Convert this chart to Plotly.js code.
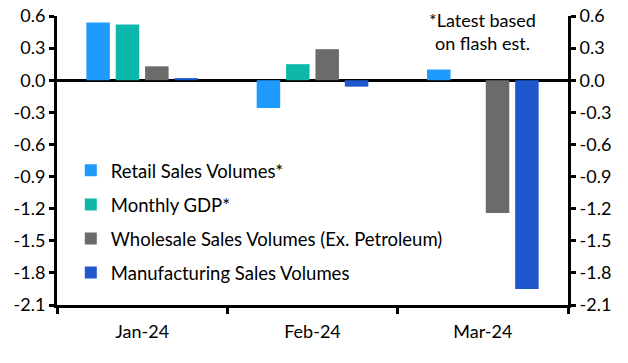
<!DOCTYPE html>
<html><head><meta charset="utf-8">
<script src="https://cdn.plot.ly/plotly-3.0.1.min.js"></script>
<style>body{margin:0}#c{width:628px;height:363px}</style>
</head><body><div id="c"></div>
<script>
const categories = ["Jan-24", "Feb-24", "Mar-24"];
const retail = [0.54, -0.26, 0.10];
const gdp = [0.52, 0.15, null];
const wholesale = [0.13, 0.29, -1.24];
const manufacturing = [0.02, -0.06, -1.95];
const seriesNames = ["Retail Sales Volumes*", "Monthly GDP*", "Wholesale Sales Volumes (Ex. Petroleum)", "Manufacturing Sales Volumes"];
const colors = ["#1F9BFF", "#0DB8AA", "#6B6B6B", "#1F57CC"];
const yTickVals = [0.6, 0.3, 0.0, -0.3, -0.6, -0.9, -1.2, -1.5, -1.8, -2.1];
const yTickText = ["0.6", "0.3", "0.0", "-0.3", "-0.6", "-0.9", "-1.2", "-1.5", "-1.8", "-2.1"];
const note = "*Latest based<br>on flash est.";

const font = "Lato, 'Noto Sans', sans-serif";
const data = [retail, gdp, wholesale, manufacturing].map((v, i) => ({
  type: "bar", x: categories, y: v, name: seriesNames[i],
  marker: {color: colors[i]}, legendgroup: "g" + i
}));
data.push({type: "scatter", x: categories, y: [null, null, null], yaxis: "y2", showlegend: false, hoverinfo: "skip"});

const yBase = {
  range: [-2.1, 0.6], tickvals: yTickVals, ticktext: yTickText,
  ticks: "outside", ticklen: 5, tickwidth: 3, tickcolor: "#000",
  showline: true, linecolor: "#000", linewidth: 3, showgrid: false,
  zeroline: false, tickfont: {size: 18, color: "#000", family: font}
};
const layout = {
  width: 628, height: 363,
  margin: {l: 57, r: 60, t: 16, b: 58},
  paper_bgcolor: "#fff", plot_bgcolor: "#fff",
  font: {family: font, color: "#000"},
  barmode: "group", bargap: 0.31, bargroupgap: 0.2,
  showlegend: true,
  legend: {x: 0.027, y: 0.53, xanchor: "left", yanchor: "top", traceorder: "grouped",
    itemwidth: 30, tracegroupgap: 7, font: {size: 18.5, family: font, color: "#000"}, bgcolor: "rgba(0,0,0,0)"},
  xaxis: {type: "category", showline: true, linecolor: "#000", linewidth: 3,
    ticks: "outside", tickson: "boundaries", ticklen: 6, tickwidth: 3, tickcolor: "#000",
    ticklabelstandoff: 8,
    showgrid: false, tickfont: {size: 18, color: "#000", family: font}, anchor: "y"},
  yaxis: Object.assign({}, yBase, {side: "left", zeroline: true, zerolinecolor: "#000", zerolinewidth: 3}),
  yaxis2: Object.assign({}, yBase, {side: "right", overlaying: "y"}),
  annotations: [{xref: "paper", yref: "paper", x: 0.833, y: 1.03, xanchor: "center", yanchor: "top",
    text: note, showarrow: false, align: "center", font: {size: 18, family: font, color: "#000"}}]
};
Plotly.newPlot("c", data, layout, {staticPlot: true});
</script></body></html>
